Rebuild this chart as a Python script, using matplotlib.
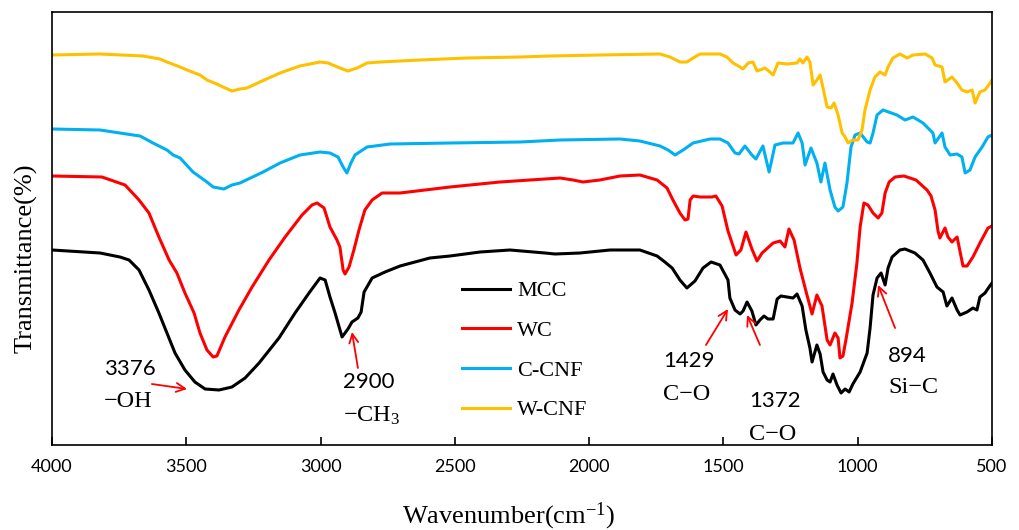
import matplotlib
matplotlib.use("Agg")
import matplotlib.pyplot as plt

plt.rcParams['mathtext.fontset'] = 'custom'
plt.rcParams['mathtext.rm'] = 'Liberation Serif'
plt.rcParams['mathtext.it'] = 'Liberation Serif:italic'

SERIF = 'Liberation Serif'
SANS = 'Lato'

# ---------------- data (wavenumber cm-1, transmittance a.u.) ----------------
mcc_wn = [4000, 3821, 3747, 3713, 3676, 3639, 3602, 3572, 3542, 3505, 3468, 3430,
          3378, 3330, 3281, 3229, 3155, 3095, 3043, 3002, 2983, 2965, 2946, 2920,
          2898, 2883, 2861, 2849,
          2838, 2808, 2760, 2704, 2593, 2518, 2406, 2295, 2164, 2127, 2034, 1922,
          1811, 1747, 1718, 1691, 1662, 1636, 1606, 1576, 1546, 1513, 1483, 1476,
          1457, 1438, 1427, 1412, 1394, 1379, 1364, 1349, 1334, 1315, 1300, 1286,
          1263, 1241, 1226, 1207, 1193, 1178, 1170, 1152, 1140, 1129, 1114, 1103,
          1092, 1077, 1062, 1047, 1032, 1018, 991, 965, 954, 943, 928, 913, 898,
          887, 872, 843, 824, 787, 757, 731, 705, 682, 668, 649, 630, 619, 593,
          571, 556, 545, 526, 511, 500]
mcc_t = [195, 192, 188, 185, 175, 155, 132, 112, 92, 75, 63, 56,
         55, 58, 67, 82, 107, 132, 152, 167, 165, 148, 132, 108,
         116, 123, 127, 133,
         153, 167, 173, 179, 187, 189, 193, 195, 192, 191, 192, 195,
         195, 189, 183, 177, 165, 157, 164, 177, 183, 180, 165, 147,
         135, 131, 134, 143, 134, 120, 125, 129, 126, 126, 146, 149,
         148, 147, 151, 139, 115, 97, 83, 100, 91, 73, 65, 63,
         71, 60, 52, 56, 53, 61, 73, 92, 117, 150, 167, 172, 160,
         177, 188, 195, 196, 192, 185, 172, 158, 153, 139, 147, 135, 130, 133,
         137, 135, 148, 152, 158, 162]

wc_wn = [4000, 3814, 3728, 3676, 3639, 3602, 3564, 3535, 3505, 3471, 3449, 3423,
         3400, 3386, 3356, 3304, 3255, 3192, 3132, 3069, 3032, 3013, 2987, 2965,
         2939, 2928, 2916, 2909, 2894, 2876, 2857, 2835, 2808, 2771,
         2704, 2518, 2332, 2108, 2060, 2023,
         1960, 1885, 1811, 1747, 1710, 1688, 1662, 1643, 1632, 1624, 1613, 1587,
         1543, 1528, 1505, 1483, 1453, 1435, 1416, 1394, 1375, 1356, 1315, 1289,
         1271, 1256, 1237, 1215, 1189, 1170, 1152, 1133, 1114, 1103, 1085, 1073,
         1066, 1055, 1044, 1021, 1003, 991, 977, 962, 943, 924, 910, 898, 883,
         861, 828, 783, 742, 727, 712, 701, 694, 675, 664, 649, 630, 608, 593,
         571, 545, 515, 500]
wc_t = [269, 268, 260, 245, 232, 208, 185, 172, 152, 132, 112, 95,
        88, 89, 108, 135, 158, 185, 208, 230, 240, 242, 237, 218,
        205, 198, 175, 171, 178, 195, 215, 235, 245, 252,
        252, 258, 263, 267, 265, 263,
        265, 269, 270, 265, 257, 245, 232, 225, 226, 245, 249, 248,
        248, 249, 239, 214, 190, 195, 213, 196, 184, 192, 202, 204,
        198, 216, 205, 177, 150, 131, 150, 139, 105, 100, 112, 107,
        87, 89, 105, 142, 182, 218, 242, 240, 232, 227, 232, 252, 263,
        268, 269, 265, 255, 249, 235, 214, 207, 217, 208, 203, 208, 179, 179,
        188, 202, 217, 219]

ccnf_wn = [4000, 3821, 3698, 3672, 3624, 3572, 3549, 3523, 3475, 3449, 3423, 3400,
           3360, 3330, 3300, 3214, 3151,
           3077, 3002, 2965, 2935, 2916, 2902, 2887, 2872, 2827, 2741, 2518, 2257,
           2108, 1885, 1811, 1736, 1706, 1680, 1650, 1613, 1550, 1513, 1483, 1457,
           1442, 1420, 1394, 1379, 1353, 1330, 1308, 1278, 1241, 1222, 1207, 1196,
           1174, 1152, 1137, 1122, 1103, 1085, 1073, 1055, 1040, 1025, 1010, 991,
           965, 954, 943, 928, 906, 854, 824, 794, 757, 720, 712, 686, 675, 656,
           630, 612, 600, 582, 563, 537, 515, 500]
ccnf_t = [316, 315, 310, 309, 302, 295, 290, 287, 273, 268, 263, 258,
          256, 260, 262, 273, 282,
          290, 293, 292, 288, 278, 272, 282, 290, 298, 301, 302, 303,
          305, 306, 304, 299, 295, 290, 295, 302, 306, 306, 302, 292,
          291, 299, 290, 286, 299, 273, 300, 302, 302, 312, 302, 280,
          297, 282, 263, 282, 255, 238, 234, 238, 262, 298, 310, 312,
          303, 302, 312, 330, 335, 330, 325, 328, 322, 312, 302, 312, 298, 290,
          291, 288, 272, 275, 288, 298, 308, 310]

wcnf_wn = [4000, 3821, 3661, 3598, 3572, 3523, 3497, 3449, 3423, 3386, 3363, 3330,
           3300, 3274, 3226, 3151,
           3077, 3002, 2972, 2928, 2898, 2864, 2827, 2779, 2630, 2455, 2257, 2146,
           1960, 1736, 1699, 1662, 1636, 1613, 1587, 1513, 1487, 1464, 1438, 1427,
           1408, 1390, 1375, 1364, 1345, 1327, 1315, 1297, 1263, 1226, 1215, 1204,
           1189, 1178, 1166, 1152, 1140, 1129, 1114, 1099, 1088, 1073, 1058, 1047,
           1036, 1018, 999, 984, 973, 954, 936, 917, 898, 887, 869, 843, 816, 794,
           749, 723, 712, 686, 675, 649, 630, 612, 593, 574, 563, 545, 526, 507, 500]
wcnf_t = [390, 391, 389, 386, 383, 378, 375, 370, 365, 361, 358, 354,
          356, 357, 363, 372,
          379, 383, 382, 377, 374, 377, 382, 383, 385, 387, 388, 389,
          390, 391, 388, 383, 383, 387, 391, 391, 388, 382, 378, 376,
          382, 383, 374, 375, 377, 373, 370, 382, 381, 382, 386, 382,
          388, 383, 360, 365, 370, 357, 338, 337, 342, 330, 312, 308,
          302, 305, 305, 315, 335, 355, 368, 373, 370, 378, 387, 391, 387, 390,
          391, 387, 380, 378, 363, 368, 362, 355, 353, 355, 342, 353, 355, 362, 365]

series_names = ['MCC', 'WC', 'C-CNF', 'W-CNF']
series_colors = ['#000000', '#FF0000', '#00B0F0', '#FFC000']

x_ticks = [4000, 3500, 3000, 2500, 2000, 1500, 1000, 500]

# annotations
ann_numbers = ['3376', '2900', '1429', '1372', '894']
ann_groups = ['−OH', r'$\mathrm{-CH_3}$', 'C−O', 'C−O', 'Si−C']
ann_text_wn = [3806, 2916, 1725, 1405, 887]
ann_num_t = [70, 57, 78, 38, 83]
ann_grp_t = [38, 23, 45, 5, 52]
ann_tail_wn = [3628, 2861, 1565, 1364, 861]
ann_tail_t = [61, 77, 100, 100, 117]
ann_tip_wn = [3497, 2883, 1483, 1412, 924]
ann_tip_t = [56, 113, 136, 130, 160]

# ---------------- figure ----------------
fig = plt.figure(figsize=(10.19, 5.30), dpi=100)
ax = fig.add_axes([52 / 1019, 85 / 530, 940 / 1019, 433 / 530])

xs = [mcc_wn, wc_wn, ccnf_wn, wcnf_wn]
ys = [mcc_t, wc_t, ccnf_t, wcnf_t]
for x, y, name, c in zip(xs, ys, series_names, series_colors):
    ax.plot(x, y, color=c, lw=2.2, label=name, solid_joinstyle='round')

ax.set_xlim(4000, 500)
ax.set_ylim(0, 433)
ax.set_xticks(x_ticks)
ax.set_xticklabels([str(t) for t in x_ticks], fontfamily=SANS, fontsize=13)
ax.set_yticks([])
ax.tick_params(axis='x', direction='in', length=6, width=1.2, pad=10)
for s in ax.spines.values():
    s.set_linewidth(1.2)

ax.set_xlabel('Wavenumber(cm$^{-1}$)', fontfamily=SERIF, fontsize=19)
ax.xaxis.set_label_coords(0.486, -0.128)
ax.set_ylabel('Transmittance(%)', fontfamily=SERIF, fontsize=19)
ax.yaxis.set_label_coords(-0.015, 0.431)

for num, grp, twn, nt, gt, a0x, a0y, a1x, a1y in zip(
        ann_numbers, ann_groups, ann_text_wn, ann_num_t, ann_grp_t,
        ann_tail_wn, ann_tail_t, ann_tip_wn, ann_tip_t):
    ax.text(twn, nt, num, fontfamily=SANS, fontsize=16, ha='left', va='baseline')
    ax.text(twn, gt, grp, fontfamily=SERIF, fontsize=17.5, ha='left', va='baseline')
    ax.annotate('', xy=(a1x, a1y), xytext=(a0x, a0y),
                arrowprops=dict(arrowstyle='->', color='red', lw=1.3,
                                mutation_scale=16, shrinkA=0, shrinkB=0))

leg = ax.legend(loc='upper left', bbox_to_anchor=(0.436, 0.379), frameon=False,
                prop={'family': SERIF, 'size': 16}, handlelength=2.16,
                handletextpad=0.32, labelspacing=0.86, borderpad=0, borderaxespad=0)

fig.savefig('out.png', dpi=100)
